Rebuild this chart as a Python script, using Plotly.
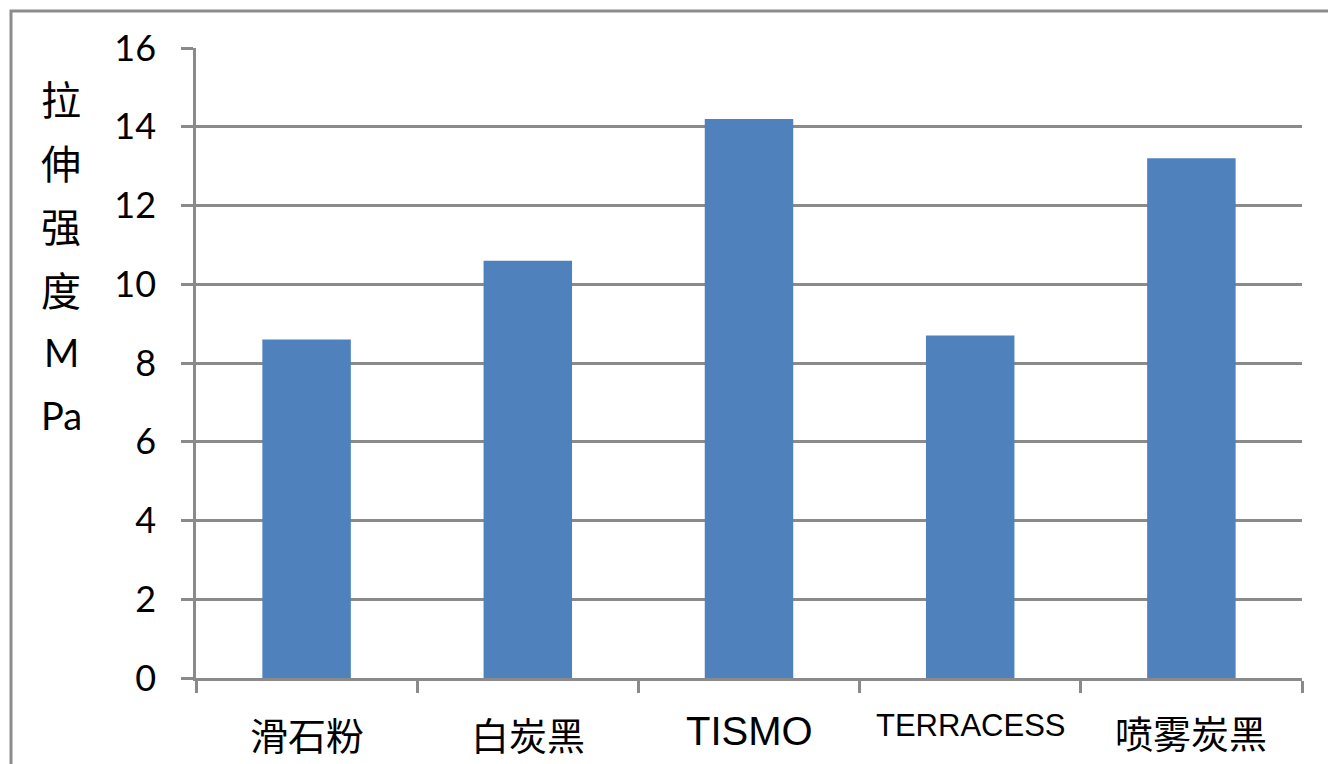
import plotly.graph_objects as go

categories = ["滑石粉", "白炭黑", "TISMO", "TERRACESS", "喷雾炭黑"]
values = [8.6, 10.6, 14.2, 8.7, 13.2]
label_sizes = [38, 38, 40, 31, 38]
label_fonts = ["Noto Sans CJK SC", "Noto Sans CJK SC", "Liberation Sans", "Liberation Sans", "Noto Sans CJK SC"]
y_title_lines = ["拉", "伸", "强", "度", "M", "Pa"]
y_ticks = [0, 2, 4, 6, 8, 10, 12, 14, 16]

W, H = 1328, 764
L, R, T, B = 196, 26, 48, 86
pw, ph = W - L - R, H - T - B

GRID = "#8a8a8a"

fig = go.Figure()
fig.add_trace(go.Bar(
    x=list(range(len(categories))), y=values,
    marker=dict(color="#4f81bd", line=dict(width=0)),
    width=0.4, showlegend=False,
))

fig.update_layout(
    width=W, height=H,
    margin=dict(l=L, r=R, t=T, b=B),
    paper_bgcolor="white", plot_bgcolor="white",
    xaxis=dict(
        range=[-0.5, len(categories) - 0.5],
        tickmode="array",
        tickvals=[i - 0.5 for i in range(len(categories) + 1)],
        ticktext=[""] * (len(categories) + 1),
        ticks="outside", ticklen=12, tickwidth=2.5, tickcolor=GRID,
        showgrid=False, zeroline=False,
        showline=True, linecolor=GRID, linewidth=2.5,
    ),
    yaxis=dict(
        range=[0, 16],
        tickmode="array", tickvals=y_ticks,
        ticks="outside", ticklen=12, tickwidth=2.5, tickcolor=GRID,
        showgrid=True, gridcolor=GRID, gridwidth=2.5,
        zeroline=False,
        showline=True, linecolor=GRID, linewidth=2.5,
        tickfont=dict(family="Lato", size=36, color="black"),
        ticklabelstandoff=18,
    ),
)

# category labels
label_y_px = [733, 733, 731, 725, 731]
for i, (c, s, f) in enumerate(zip(categories, label_sizes, label_fonts)):
    fig.add_annotation(
        x=i, xref="x", y=(H - B - label_y_px[i]) / ph, yref="paper",
        text=c, showarrow=False, xanchor="center", yanchor="middle",
        font=dict(family=f, size=s, color="black"),
    )

# stacked y title
for k, line in enumerate(y_title_lines):
    ypx = 98 + k * 63.5
    fig.add_annotation(
        x=(61 - L) / pw, xref="paper", y=(H - B - ypx) / ph, yref="paper",
        text=line, showarrow=False, xanchor="center", yanchor="middle",
        font=dict(family="Noto Sans CJK SC" if k < 4 else "Lato", size=40 if k < 4 else 38, color="black"),
    )

# outer chart border
fig.add_shape(
    type="rect", xref="paper", yref="paper",
    x0=(11 - L) / pw, x1=(1340 - L) / pw,
    y0=(H - B - 800) / ph, y1=(H - B - 11) / ph,
    line=dict(color="#8c8c8c", width=3), fillcolor="rgba(0,0,0,0)",
    layer="below",
)

fig.write_html("out.html")
